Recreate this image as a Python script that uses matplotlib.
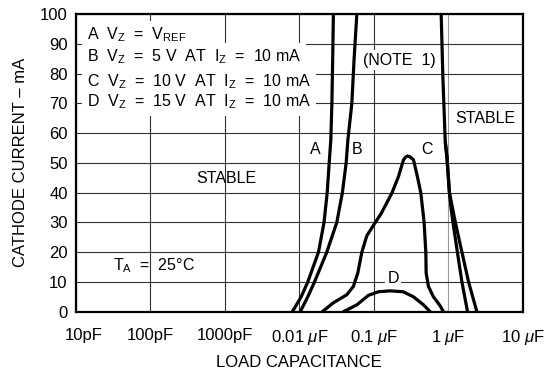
import matplotlib
matplotlib.use("Agg")
import matplotlib.pyplot as plt
from matplotlib import font_manager
from matplotlib.transforms import ScaledTranslation

fams = [f.name for f in font_manager.fontManager.ttflist]
main_font = "Liberation Sans Narrow" if "Liberation Sans Narrow" in fams else "Liberation Sans"
plt.rcParams['font.family'] = [main_font, 'DejaVu Sans']
plt.rcParams['mathtext.fontset'] = 'custom'
plt.rcParams['mathtext.rm'] = main_font
plt.rcParams['mathtext.it'] = main_font + ':italic'

# ---- data (capacitance in farads, cathode current in mA) ----
a_cap = [8.07e-9, 1.06e-8, 1.30e-8, 1.81e-8, 2.15e-8, 2.37e-8, 2.52e-8, 2.65e-8, 2.74e-8, 2.81e-8, 2.87e-8]
a_ma = [0, 5, 10, 20, 30, 40, 50, 57.6, 70, 85, 100]

b_cap = [1.03e-8, 1.30e-8, 1.60e-8, 2.34e-8, 3.19e-8, 3.79e-8, 4.26e-8, 4.49e-8, 5.08e-8, 5.45e-8, 5.93e-8]
b_ma = [0, 5, 10, 20, 30, 40, 50, 57.6, 70, 85, 100]

c_cap = [2.04e-8, 2.87e-8, 4.35e-8, 5.33e-8, 6.11e-8, 6.92e-8, 8.07e-8, 9.9e-8, 1.26e-7,
         1.75e-7, 2.15e-7, 2.51e-7, 2.67e-7, 2.84e-7, 3.08e-7, 3.42e-7, 3.86e-7, 4.30e-7,
         4.75e-7, 5.01e-7, 5.06e-7, 5.43e-7, 6.34e-7, 7.79e-7, 8.65e-7]
c_ma = [0, 3, 5.7, 8.5, 13, 20, 25.5, 29, 33,
        39.8, 45.4, 51, 51.9, 52.3, 52.0, 51, 45.4, 39.8,
        30, 20, 13, 8.5, 5, 2, 0]

d_cap = [3.92e-8, 5.93e-8, 8.49e-8, 1.16e-7, 1.66e-7, 2.48e-7, 3.42e-7, 4.66e-7, 5.73e-7]
d_ma = [0, 2.3, 5.5, 6.7, 7.0, 6.7, 5, 2.3, 0]

r1_cap = [8.05e-7, 8.49e-7, 9.12e-7, 9.62e-7, 1.04e-6, 1.09e-6, 1.16e-6, 1.33e-6, 1.53e-6, 1.82e-6]
r1_ma = [100, 78.8, 57.6, 52, 40, 35, 30, 20, 10, 0]

r2_cap = [9.12e-7, 9.62e-7, 1.04e-6, 1.14e-6, 1.25e-6, 1.53e-6, 1.88e-6, 2.43e-6]
r2_ma = [57, 52, 40, 35, 30, 20, 10, 0]

xtick_vals = [1e-11, 1e-10, 1e-9, 1e-8, 1e-7, 1e-6, 1e-5]
xtick_labels = ['10pF', '100pF', '1000pF', r'0.01 $\mu$F', r'0.1 $\mu$F', r'1 $\mu$F', r'10 $\mu$F']
ytick_vals = [0, 10, 20, 30, 40, 50, 60, 70, 80, 90, 100]

legend_lines = [r'A  V$_\mathregular{Z}$  =  V$_\mathregular{REF}$',
                r'B  V$_\mathregular{Z}$  =  5 V  AT  I$_\mathregular{Z}$  =  10 mA',
                r'C  V$_\mathregular{Z}$  =  10 V  AT  I$_\mathregular{Z}$  =  10 mA',
                r'D  V$_\mathregular{Z}$  =  15 V  AT  I$_\mathregular{Z}$  =  10 mA']
legend_y = [93.0, 85.6, 77.2, 70.5]

fig = plt.figure(figsize=(5.47, 3.76), dpi=100)
ax = fig.add_axes([76/547, 1-311.7/376, 446.6/547, 297.7/376])
ax.set_xscale('log')
ax.set_xlim(1e-11, 1e-5)
ax.set_ylim(0, 100)
ax.set_xticks(xtick_vals)
ax.set_xticklabels(xtick_labels)
ax.minorticks_off()
ax.set_yticks(ytick_vals)
ax.tick_params(length=0, labelsize=12)
ax.tick_params(axis='x', pad=12)
ax.tick_params(axis='y', pad=6)
ax.grid(True, color='#333333', linewidth=0.8)
ax.set_axisbelow(True)
for i, gl in enumerate(ax.get_xgridlines()):
    if i == 5:
        gl.set_color('#999999')
for s in ax.spines.values():
    s.set_linewidth(1.6)

first = ax.get_xticklabels()[0]
first.set_transform(first.get_transform() + ScaledTranslation(8/100, 0, fig.dpi_scale_trans))

lw = 2.3
for xs, ys in [(a_cap, a_ma), (b_cap, b_ma), (c_cap, c_ma), (d_cap, d_ma), (r1_cap, r1_ma), (r2_cap, r2_ma)]:
    ax.plot(xs, ys, color='black', linewidth=lw, solid_joinstyle='round', solid_capstyle='round', zorder=3)

box = dict(facecolor='white', edgecolor='none', pad=3.5)
for txt, y in zip(legend_lines, legend_y):
    ax.text(1.41e-11, y, txt, fontsize=11.5, va='center', ha='left', bbox=box, zorder=2)

ax.text(1.63e-8, 54.5, 'A', fontsize=11.5, ha='center', va='center', zorder=4)
ax.text(5.98e-8, 54.5, 'B', fontsize=11.5, ha='center', va='center', zorder=4)
ax.text(5.18e-7, 54.5, 'C', fontsize=11.5, ha='center', va='center', zorder=4)
ax.text(1.82e-7, 11.0, 'D', fontsize=11.5, ha='center', va='center', zorder=4,
        bbox=dict(facecolor='white', edgecolor='none', pad=1.5))
ax.text(2.19e-7, 84.5, '(NOTE  1)', fontsize=11.5, ha='center', va='center', zorder=2,
        bbox=dict(facecolor='white', edgecolor='none', pad=2))
ax.text(3.14e-6, 65, 'STABLE', fontsize=11.5, ha='center', va='center')
ax.text(1.04e-9, 44.9, 'STABLE', fontsize=11.5, ha='center', va='center')
ax.text(3.14e-11, 15.5, r'T$_\mathregular{A}$  =  25°C', fontsize=11.5, ha='left', va='center')

ax.set_xlabel('LOAD CAPACITANCE', fontsize=12)
ax.set_ylabel('CATHODE CURRENT – mA', fontsize=12)
ax.xaxis.set_label_coords(0.5, -0.172)
ax.yaxis.set_label_coords(-0.125, 0.5)
ax.xaxis.label.set_va('center')
ax.yaxis.label.set_va('center')

fig.savefig('out.png', dpi=100)
